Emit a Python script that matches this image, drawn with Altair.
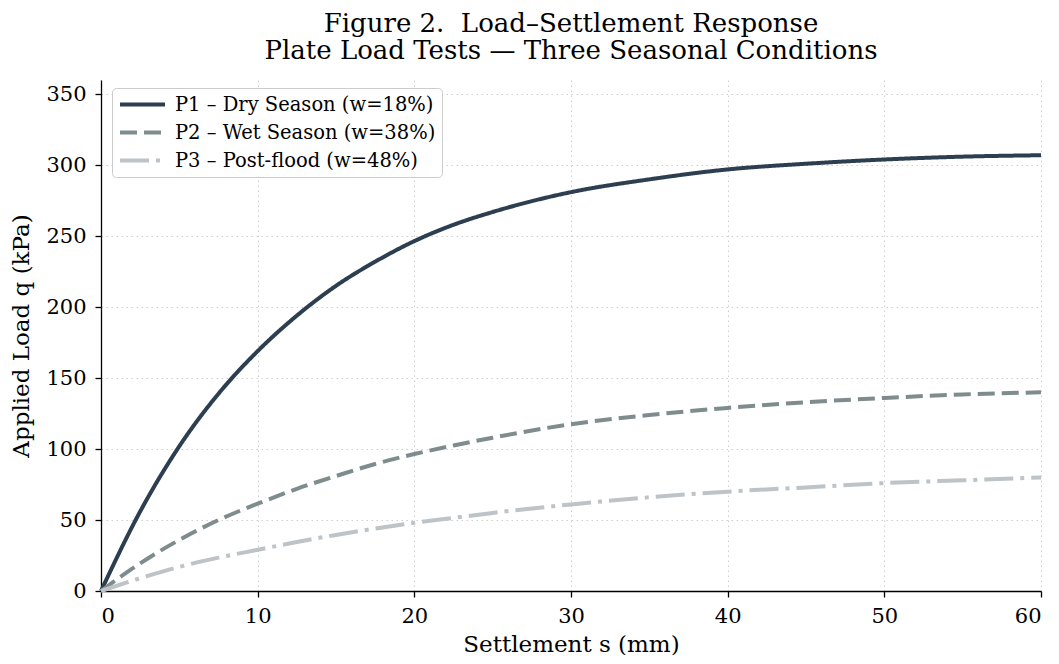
import altair as alt
import pandas as pd

settlement = [0, 2.5, 5, 7.5, 10, 12.5, 15, 17.5, 20, 22.5, 25, 30, 35, 40, 45, 50, 55, 60]
p1 = [0, 56, 102, 139, 169, 194, 215, 232, 246.5, 258, 267, 281, 290, 297, 301, 304, 306, 307]
p2 = [0, 19.5, 36, 50, 61.5, 72, 81, 89.5, 96.5, 102.5, 108, 117.5, 124, 129, 133, 136, 138.5, 140]
p3 = [0, 9, 17, 23.5, 29, 34.5, 39.5, 44, 48, 51.5, 55, 61, 66, 70, 73, 76, 78, 80]

series_names = ["P1 – Dry Season (w=18%)", "P2 – Wet Season (w=38%)", "P3 – Post-flood (w=48%)"]
series_colors = ["#2c3e50", "#7f8c8d", "#bdc3c7"]
series_dash = [[1, 0], [17, 7], [29, 7, 4, 7]]

rows = []
for name, vals in zip(series_names, [p1, p2, p3]):
    for s, q in zip(settlement, vals):
        rows.append({"s": s, "q": q, "series": name})
df = pd.DataFrame(rows)

font = "DejaVu Serif"

chart = alt.Chart(df).mark_line(strokeWidth=4, interpolate="monotone", strokeCap="butt").encode(
    x=alt.X("s:Q", scale=alt.Scale(domain=[0, 60], nice=False, zero=False),
            axis=alt.Axis(title="Settlement s (mm)", values=[0, 10, 20, 30, 40, 50, 60], format="d",
                          labelPadding=8, titlePadding=7)),
    y=alt.Y("q:Q", scale=alt.Scale(domain=[0, 360], nice=False),
            axis=alt.Axis(title="Applied Load q (kPa)", values=[0, 50, 100, 150, 200, 250, 300, 350], format="d",
                          labelPadding=9, titlePadding=12)),
    color=alt.Color("series:N", scale=alt.Scale(domain=series_names, range=series_colors),
                    legend=alt.Legend(title=None, orient="none", legendX=11, legendY=8)),
    strokeDash=alt.StrokeDash("series:N", scale=alt.Scale(domain=series_names, range=series_dash),
                              legend=alt.Legend(title=None, orient="none", legendX=11, legendY=8)),
).properties(
    width=940,
    height=511,
    autosize=alt.AutoSizeParams(type="none"),
    padding={"left": 93, "top": 72, "right": 10, "bottom": 64},
    title=alt.TitleParams(
        text=["Figure 2.\u00a0 Load–Settlement Response", "Plate Load Tests — Three Seasonal Conditions"],
        font=font, fontSize=26, fontWeight="normal", color="#000000", anchor="middle",
        lineHeight=27.5, offset=16,
    ),
).configure_view(
    stroke=None
).configure_axis(
    labelFont=font, titleFont=font, labelFontSize=21, titleFontSize=23,
    titleFontWeight="normal", labelColor="#000000", titleColor="#000000",
    domainColor="#000000", domainWidth=1.3, tickColor="#000000", tickSize=6, tickWidth=1.3,
    grid=True, gridColor="#cfcfcf", gridDash=[1.5, 3.5], gridWidth=1,
).configure_legend(
    labelFont=font, labelFontSize=19.5, labelColor="#000000",
    symbolType="stroke", symbolSize=2025, symbolStrokeWidth=4,
    strokeColor="#cccccc", fillColor="#ffffff", cornerRadius=4, padding=6,
    rowPadding=7, clipHeight=21, labelOffset=8, labelLimit=400,
)

chart.save("out.html", embed_options={"renderer": "svg", "actions": False})
